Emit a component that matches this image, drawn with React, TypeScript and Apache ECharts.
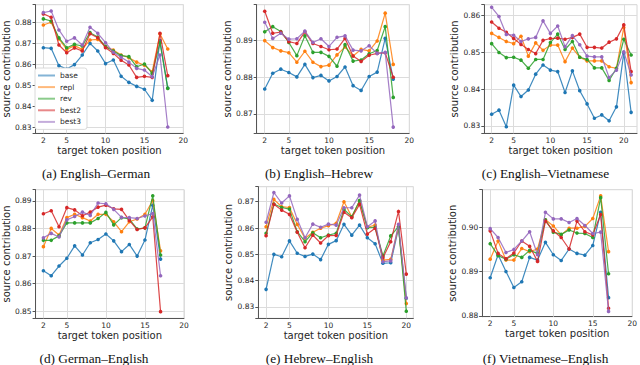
import React, { useEffect, useRef } from 'react';
import * as echarts from 'echarts';

const COLORS = ['#1f77b4', '#ff7f0e', '#2ca02c', '#d62728', '#9467bd'];
const SERIES_NAMES = ['base', 'repl', 'rev', 'best2', 'best3'];
const X_TICKS = [2, 5, 10, 15, 20];
const X_TITLE = 'target token position';
const Y_TITLE = 'source contribution';

// token positions per panel
const posA = [2, 3, 4, 5, 6, 7, 8, 9, 10, 11, 12, 13, 14, 15, 16, 17, 18];
const posB = [2, 3, 4, 5, 6, 7, 8, 9, 10, 11, 12, 13, 14, 15, 16, 17, 18];
const posC = [2, 3, 4, 5, 6, 7, 8, 9, 10, 11, 12, 13, 14, 15, 16, 17, 18, 19, 20, 21];
const posD = [2, 3, 4, 5, 6, 7, 8, 9, 10, 11, 12, 13, 14, 15, 16, 17];
const posE = [2, 3, 4, 5, 6, 7, 8, 9, 10, 11, 12, 13, 14, 15, 16, 17, 18, 19, 20];
const posF = [2, 3, 4, 5, 6, 7, 8, 9, 10, 11, 12, 13, 14, 15, 16, 17];

// (a) English–German
const aBase = [0.868, 0.8677, 0.8594, 0.8578, 0.8599, 0.8645, 0.8701, 0.8664, 0.8604, 0.8621, 0.8543, 0.8514, 0.8495, 0.8481, 0.8428, 0.8714, 0.8487];
const aRepl = [0.8789, 0.8802, 0.8722, 0.8672, 0.869, 0.8672, 0.8717, 0.872, 0.8685, 0.8669, 0.8645, 0.8632, 0.8611, 0.8596, 0.8565, 0.8746, 0.8674];
const aRev = [0.8818, 0.8808, 0.8727, 0.868, 0.8696, 0.8688, 0.8752, 0.8731, 0.8685, 0.8664, 0.8642, 0.8637, 0.8589, 0.8602, 0.8557, 0.8704, 0.8485];
const aBest2 = [0.8842, 0.8826, 0.8693, 0.8656, 0.8679, 0.8664, 0.8747, 0.8728, 0.868, 0.8653, 0.862, 0.8597, 0.8538, 0.8543, 0.8538, 0.8749, 0.8546];
const aBest3 = [0.8848, 0.8856, 0.8765, 0.8711, 0.8727, 0.8693, 0.8778, 0.8749, 0.8704, 0.8658, 0.8634, 0.8611, 0.8581, 0.8573, 0.8541, 0.8645, 0.83];

// (b) English–Hebrew
const bBase = [0.8768, 0.8811, 0.8822, 0.8813, 0.8801, 0.8835, 0.8799, 0.8805, 0.879, 0.8802, 0.8828, 0.8777, 0.8764, 0.8802, 0.8814, 0.8906, 0.8795];
const bRepl = [0.89, 0.8881, 0.8872, 0.8867, 0.8841, 0.8871, 0.8841, 0.8829, 0.8833, 0.8861, 0.8883, 0.8858, 0.8876, 0.8872, 0.8899, 0.8975, 0.8835];
const bRev = [0.8924, 0.8938, 0.8925, 0.8895, 0.8859, 0.8913, 0.8868, 0.8868, 0.8857, 0.883, 0.8889, 0.8844, 0.8847, 0.8864, 0.8873, 0.8938, 0.8745];
const bBest2 = [0.898, 0.892, 0.8923, 0.8897, 0.8892, 0.8924, 0.8892, 0.8884, 0.8875, 0.8877, 0.8906, 0.8858, 0.8843, 0.886, 0.8865, 0.8867, 0.88];
const bBest3 = [0.895, 0.8906, 0.892, 0.8904, 0.8905, 0.8926, 0.8895, 0.8905, 0.8884, 0.8909, 0.8913, 0.8874, 0.8872, 0.8886, 0.8865, 0.8868, 0.8664];

// (c) English–Vietnamese
const cBase = [0.8332, 0.8343, 0.8298, 0.8411, 0.838, 0.8398, 0.8441, 0.8466, 0.8452, 0.8448, 0.8391, 0.845, 0.8396, 0.836, 0.8321, 0.833, 0.8314, 0.8352, 0.8498, 0.8337];
const cRepl = [0.8552, 0.8541, 0.853, 0.8524, 0.8544, 0.849, 0.8526, 0.8506, 0.852, 0.852, 0.8475, 0.8512, 0.8487, 0.8477, 0.8477, 0.8477, 0.8461, 0.8457, 0.8568, 0.8418];
const cRev = [0.8524, 0.85, 0.8486, 0.8487, 0.8479, 0.8457, 0.8481, 0.8481, 0.8527, 0.855, 0.8508, 0.853, 0.8487, 0.8481, 0.8458, 0.8458, 0.8424, 0.8457, 0.8536, 0.8493];
const cBest2 = [0.8583, 0.8566, 0.8555, 0.8538, 0.8522, 0.8508, 0.8497, 0.8533, 0.8538, 0.8539, 0.8536, 0.8541, 0.855, 0.8514, 0.8514, 0.8512, 0.8528, 0.8537, 0.8575, 0.8448];
const cBest3 = [0.8623, 0.8598, 0.8549, 0.8547, 0.853, 0.8537, 0.8541, 0.8586, 0.8552, 0.8572, 0.8516, 0.8546, 0.8521, 0.849, 0.8488, 0.8488, 0.8432, 0.8452, 0.8502, 0.8439];

// (d) German–English
const dBase = [0.8647, 0.8629, 0.8664, 0.8692, 0.8737, 0.8704, 0.8748, 0.876, 0.878, 0.8755, 0.8716, 0.8742, 0.87, 0.8758, 0.8884, 0.8689];
const dRepl = [0.8734, 0.88, 0.8776, 0.8839, 0.8851, 0.8839, 0.8827, 0.8851, 0.8851, 0.8824, 0.8788, 0.8824, 0.8834, 0.8851, 0.8901, 0.8719];
const dRev = [0.8757, 0.8757, 0.8773, 0.882, 0.882, 0.882, 0.882, 0.8836, 0.8858, 0.8813, 0.8839, 0.8834, 0.8798, 0.8802, 0.8918, 0.8704];
const dBest2 = [0.8853, 0.8864, 0.8806, 0.8875, 0.8867, 0.8846, 0.8859, 0.8877, 0.8884, 0.8871, 0.8869, 0.8829, 0.8796, 0.8802, 0.8842, 0.8499];
const dBest3 = [0.8766, 0.8782, 0.8769, 0.8831, 0.8843, 0.8859, 0.8847, 0.8892, 0.8889, 0.8869, 0.884, 0.8839, 0.8836, 0.8845, 0.8854, 0.8629];

// (e) Hebrew–English
const eBase = [0.8367, 0.85, 0.8491, 0.8551, 0.8504, 0.8492, 0.8501, 0.848, 0.8538, 0.8552, 0.8614, 0.8573, 0.8611, 0.8563, 0.854, 0.8466, 0.8468, 0.8599, 0.8333];
const eRepl = [0.8605, 0.8709, 0.8681, 0.8678, 0.8614, 0.8561, 0.8584, 0.8599, 0.8609, 0.8618, 0.87, 0.8643, 0.8703, 0.8603, 0.8611, 0.8478, 0.8481, 0.8605, 0.8313];
const eRev = [0.858, 0.8691, 0.8678, 0.8672, 0.8586, 0.8548, 0.8582, 0.8563, 0.8573, 0.858, 0.8671, 0.8643, 0.8704, 0.8601, 0.8603, 0.8494, 0.857, 0.8605, 0.8284];
const eBest2 = [0.8571, 0.869, 0.8668, 0.8652, 0.8584, 0.8525, 0.8573, 0.8543, 0.8571, 0.8572, 0.866, 0.8639, 0.869, 0.8577, 0.8599, 0.8487, 0.8548, 0.8663, 0.8425];
const eBest3 = [0.8622, 0.8735, 0.8695, 0.8722, 0.8633, 0.8563, 0.8615, 0.8603, 0.8615, 0.8611, 0.8677, 0.8677, 0.8725, 0.8605, 0.8627, 0.8472, 0.8475, 0.8614, 0.8335];

// (f) Vietnamese–English
const fBase = [0.8886, 0.8938, 0.89, 0.8864, 0.8877, 0.8932, 0.8926, 0.8966, 0.8938, 0.8925, 0.8951, 0.8941, 0.8937, 0.8959, 0.9034, 0.8841];
const fRepl = [0.8928, 0.8969, 0.8926, 0.8926, 0.8952, 0.8945, 0.8951, 0.9017, 0.9003, 0.8983, 0.8998, 0.8998, 0.9002, 0.902, 0.9071, 0.8945];
const fRev = [0.8963, 0.8936, 0.8928, 0.8938, 0.8932, 0.8948, 0.8941, 0.9017, 0.8989, 0.8984, 0.8994, 0.8987, 0.8986, 0.8977, 0.9067, 0.8895];
const fBest2 = [0.8992, 0.8941, 0.8929, 0.8942, 0.8969, 0.8957, 0.8923, 0.9014, 0.8992, 0.8977, 0.8951, 0.9014, 0.899, 0.8983, 0.9029, 0.8817];
const fBest3 = [0.8997, 0.8977, 0.8943, 0.895, 0.8969, 0.899, 0.8938, 0.9034, 0.9019, 0.9019, 0.9011, 0.902, 0.9004, 0.8986, 0.8989, 0.881];

const CAPTIONS = [
  '(a) English–German',
  '(b) English–Hebrew',
  '(c) English–Vietnamese',
  '(d) German–English',
  '(e) Hebrew–English',
  '(f) Vietnamese–English',
];

const PANEL_DATA = [
  { pos: posA, series: [aBase, aRepl, aRev, aBest2, aBest3] },
  { pos: posB, series: [bBase, bRepl, bRev, bBest2, bBest3] },
  { pos: posC, series: [cBase, cRepl, cRev, cBest2, cBest3] },
  { pos: posD, series: [dBase, dRepl, dRev, dBest2, dBest3] },
  { pos: posE, series: [eBase, eRepl, eRev, eBest2, eBest3] },
  { pos: posF, series: [fBase, fRepl, fRev, fBest2, fBest3] },
];

// axis ranges
const Y_RANGES = [
  [0.827, 0.8886],
  [0.8647, 0.8998],
  [0.828, 0.863],
  [0.8475, 0.894],
  [0.8257, 0.8757],
  [0.8798, 0.9085],
];
const X_MAX = [20, 20, 21.8, 20, 20.9, 20];

// layout
const LAYOUT = [
  { left: 31.7, top: 4.7, width: 151.6, height: 128.6, cx: 96, cy: 173 },
  { left: 256.7, top: 4.7, width: 152.6, height: 128.6, cx: 319, cy: 173 },
  { left: 484.3, top: 4.7, width: 152.7, height: 128.6, cx: 545.5, cy: 173 },
  { left: 31.7, top: 189.7, width: 152.3, height: 128.6, cx: 94, cy: 358.5 },
  { left: 258.3, top: 186.7, width: 155, height: 131.6, cx: 319.5, cy: 358.5 },
  { left: 482.3, top: 189.7, width: 152.7, height: 127, cx: 545.5, cy: 358.5 },
];

const FONT = '"DejaVu Sans", sans-serif';
const TXT = '#262626';

function isMultiple(v: number, step: number) {
  const r = v / step;
  return Math.abs(r - Math.round(r)) < 1e-6;
}

function buildOption() {
  const grid: any[] = [];
  const xAxis: any[] = [];
  const yAxis: any[] = [];
  const series: any[] = [];

  PANEL_DATA.forEach((panel, i) => {
    const L = LAYOUT[i];
    grid.push({
      left: L.left,
      top: L.top,
      width: L.width,
      height: L.height,
      show: true,
      borderColor: '#d6d6d6',
      borderWidth: 1,
      backgroundColor: 'transparent',
    });
    xAxis.push({
      type: 'value',
      gridIndex: i,
      min: 1,
      max: X_MAX[i],
      interval: 1,
      axisLine: { show: true, onZero: false, lineStyle: { color: '#555', width: 1 } },
      axisTick: { show: false },
      splitLine: { show: false },
      axisLabel: {
        formatter: (v: number) => (X_TICKS.indexOf(v) >= 0 ? String(v) : ''),
        fontSize: 7.5,
        fontFamily: FONT,
        color: TXT,
        margin: 3,
      },
      name: X_TITLE,
      nameLocation: 'middle',
      nameGap: 10,
      nameTextStyle: { fontSize: 10, fontFamily: FONT, color: TXT },
    });
    yAxis.push({
      type: 'value',
      gridIndex: i,
      min: Y_RANGES[i][0],
      max: Y_RANGES[i][1],
      minInterval: 0.01,
      maxInterval: 0.01,
      axisLine: { show: true, onZero: false, lineStyle: { color: '#555', width: 1 } },
      axisTick: { show: true, length: 3, lineStyle: { color: '#555' } },
      splitLine: { show: true, lineStyle: { color: '#dcdcdc', width: 1 } },
      axisLabel: {
        formatter: (v: number) => (isMultiple(v, 0.01) ? v.toFixed(2) : ''),
        fontSize: 7.5,
        fontFamily: FONT,
        color: TXT,
        margin: 4,
        showMinLabel: true,
        showMaxLabel: true,
      },
      name: Y_TITLE,
      nameLocation: 'middle',
      nameGap: 20.5,
      nameTextStyle: { fontSize: 10, fontFamily: FONT, color: TXT },
    });
    // vertical grid lines at x ticks
    series.push({
      type: 'line',
      xAxisIndex: i,
      yAxisIndex: i,
      data: [],
      silent: true,
      markLine: {
        silent: true,
        z: 1,
        symbol: ['none', 'none'],
        label: { show: false },
        lineStyle: { color: '#dcdcdc', width: 1, type: 'solid' },
        emphasis: { disabled: true },
        data: X_TICKS.filter((t) => t <= X_MAX[i]).map((t) => ({ xAxis: t })),
      },
    });
    panel.series.forEach((vals, k) => {
      series.push({
        name: SERIES_NAMES[k],
        type: 'line',
        xAxisIndex: i,
        yAxisIndex: i,
        data: panel.pos.map((x, j) => [x, vals[j]]),
        symbol: 'circle',
        symbolSize: 3.6,
        showSymbol: true,
        lineStyle: { color: COLORS[k], width: 1.2, opacity: 0.85 },
        itemStyle: { color: COLORS[k] },
        emphasis: { disabled: true },
        z: 2 + k * 0.01,
      });
    });
  });

  const graphic = CAPTIONS.map((t, i) => ({
    type: 'text',
    x: LAYOUT[i].cx,
    y: LAYOUT[i].cy,
    silent: true,
    style: {
      text: t,
      fontSize: 13.3,
      fontWeight: 'normal',
      fontFamily: '"Liberation Serif", "Times New Roman", serif',
      fill: '#111',
      align: 'center',
      verticalAlign: 'middle',
    },
  }));

  return {
    animation: false,
    backgroundColor: '#fff',
    color: COLORS,
    grid,
    xAxis,
    yAxis,
    series,
    graphic,
    legend: {
      show: true,
      data: SERIES_NAMES,
      orient: 'vertical',
      left: 35,
      top: 68,
      icon: 'rect',
      itemWidth: 17,
      itemHeight: 2,
      itemGap: 2.6,
      padding: [3, 6, 3, 3],
      backgroundColor: '#fff',
      borderColor: '#d0d0d0',
      borderWidth: 0.8,
      borderRadius: 2.5,
      selectedMode: false,
      itemStyle: { opacity: 0.55 },
      textStyle: { fontSize: 7.5, fontFamily: FONT, color: TXT, lineHeight: 9 },
    },
  };
}

export default function App() {
  const ref = useRef<HTMLDivElement>(null);
  useEffect(() => {
    if (!ref.current) return;
    const chart = echarts.init(ref.current, undefined, { renderer: 'svg' });
    chart.setOption(buildOption() as any);
    return () => chart.dispose();
  }, []);
  return (
    <div
      ref={ref}
      style={{ position: 'absolute', left: 0, top: 0, width: 640, height: 365 }}
    />
  );
}
